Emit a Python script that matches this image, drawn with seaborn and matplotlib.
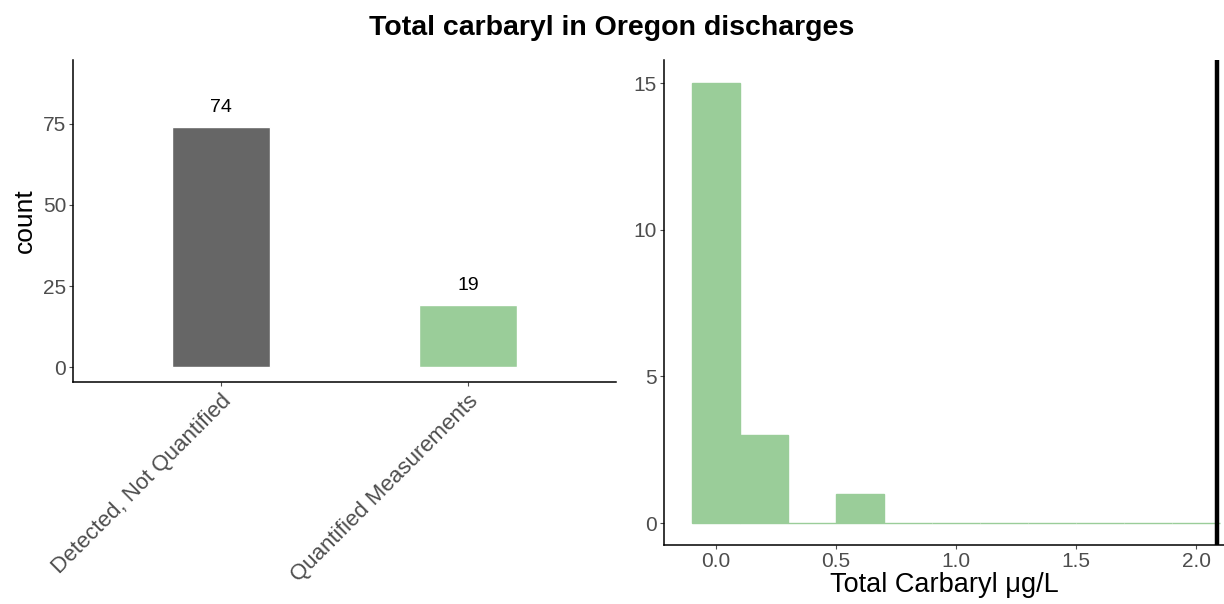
import numpy as np
import pandas as pd
import matplotlib
matplotlib.use("Agg")
import matplotlib.pyplot as plt
import seaborn as sns

# ----------------------------------
# Data
# ----------------------------------
categories = ["Detected, Not Quantified", "Quantified Measurements"]
category_counts = [74, 19]
category_colors = ["#666666", "#9ACD99"]

bin_edges = [-0.1, 0.1, 0.3, 0.5, 0.7, 0.9, 1.1, 1.3, 1.5, 1.7, 1.9, 2.1]
bin_counts = [15, 3, 0, 1, 0, 0, 0, 0, 0, 0, 0]
reference_value = 2.085

bar_df = pd.DataFrame({"status": categories, "count": category_counts})
centers = [(a + b) / 2 for a, b in zip(bin_edges[:-1], bin_edges[1:])]
hist_df = pd.DataFrame({"carbaryl": centers, "n": bin_counts})

# ----------------------------------
# Figure
# ----------------------------------
sns.set_style("white")
plt.rcParams["font.family"] = ["Liberation Sans", "DejaVu Sans"]

W, H = 1224, 604
fig = plt.figure(figsize=(W / 100, H / 100), dpi=100)

def px_axes(x0, y0, x1, y1):
    return fig.add_axes([x0 / W, 1 - y1 / H, (x1 - x0) / W, (y1 - y0) / H])

ax1 = px_axes(73, 60, 616, 382)
ax2 = px_axes(664, 60, 1224, 545)

tick_color = "#4D4D4D"

# Left: bar chart of detection status
sns.barplot(data=bar_df, x="status", y="count", hue="status",
            palette=category_colors, width=0.4, saturation=1,
            legend=False, ax=ax1)
for cont in ax1.containers:
    ax1.bar_label(cont, padding=8, fontsize=14, color="black")
ax1.set_xlim(-0.6, 1.6)
ax1.set_ylim(-4.6, 94.7)
ax1.set_yticks([0, 25, 50, 75])
ax1.set_xlabel("")
ax1.set_ylabel("count", fontsize=19, color="black", labelpad=4)

# Right: histogram of quantified values
sns.histplot(data=hist_df, x="carbaryl", weights="n", bins=bin_edges,
             color=category_colors[1], alpha=1, edgecolor=category_colors[1],
             linewidth=1.0, ax=ax2)
ax2.axvline(reference_value, color="black", linewidth=3.2)
ax2.set_xlim(-0.2145, 2.115)
ax2.set_ylim(-0.75, 15.8)
ax2.set_xticks([0.0, 0.5, 1.0, 1.5, 2.0])
ax2.set_yticks([0, 5, 10, 15])
ax2.set_xlabel("Total Carbaryl μg/L", fontsize=19.5, color="black", labelpad=1)
ax2.set_ylabel("")

for ax in (ax1, ax2):
    sns.despine(ax=ax)
    for s in ("left", "bottom"):
        ax.spines[s].set_color("black")
        ax.spines[s].set_linewidth(1.1)
    ax.tick_params(axis="both", which="major", labelsize=15, labelcolor=tick_color,
                   color=tick_color, length=3, width=0.8, pad=2,
                   bottom=True, left=True)

# rotated category labels
ax1.tick_params(axis="x", labelrotation=45, labelsize=16, pad=3)
for lab in ax1.get_xticklabels():
    lab.set_ha("right")
    lab.set_rotation_mode("anchor")

fig.suptitle("Total carbaryl in Oregon discharges", fontsize=20.5,
             fontweight="bold", color="black", x=0.5, y=0.975)

fig.savefig("out.png", dpi=100)
